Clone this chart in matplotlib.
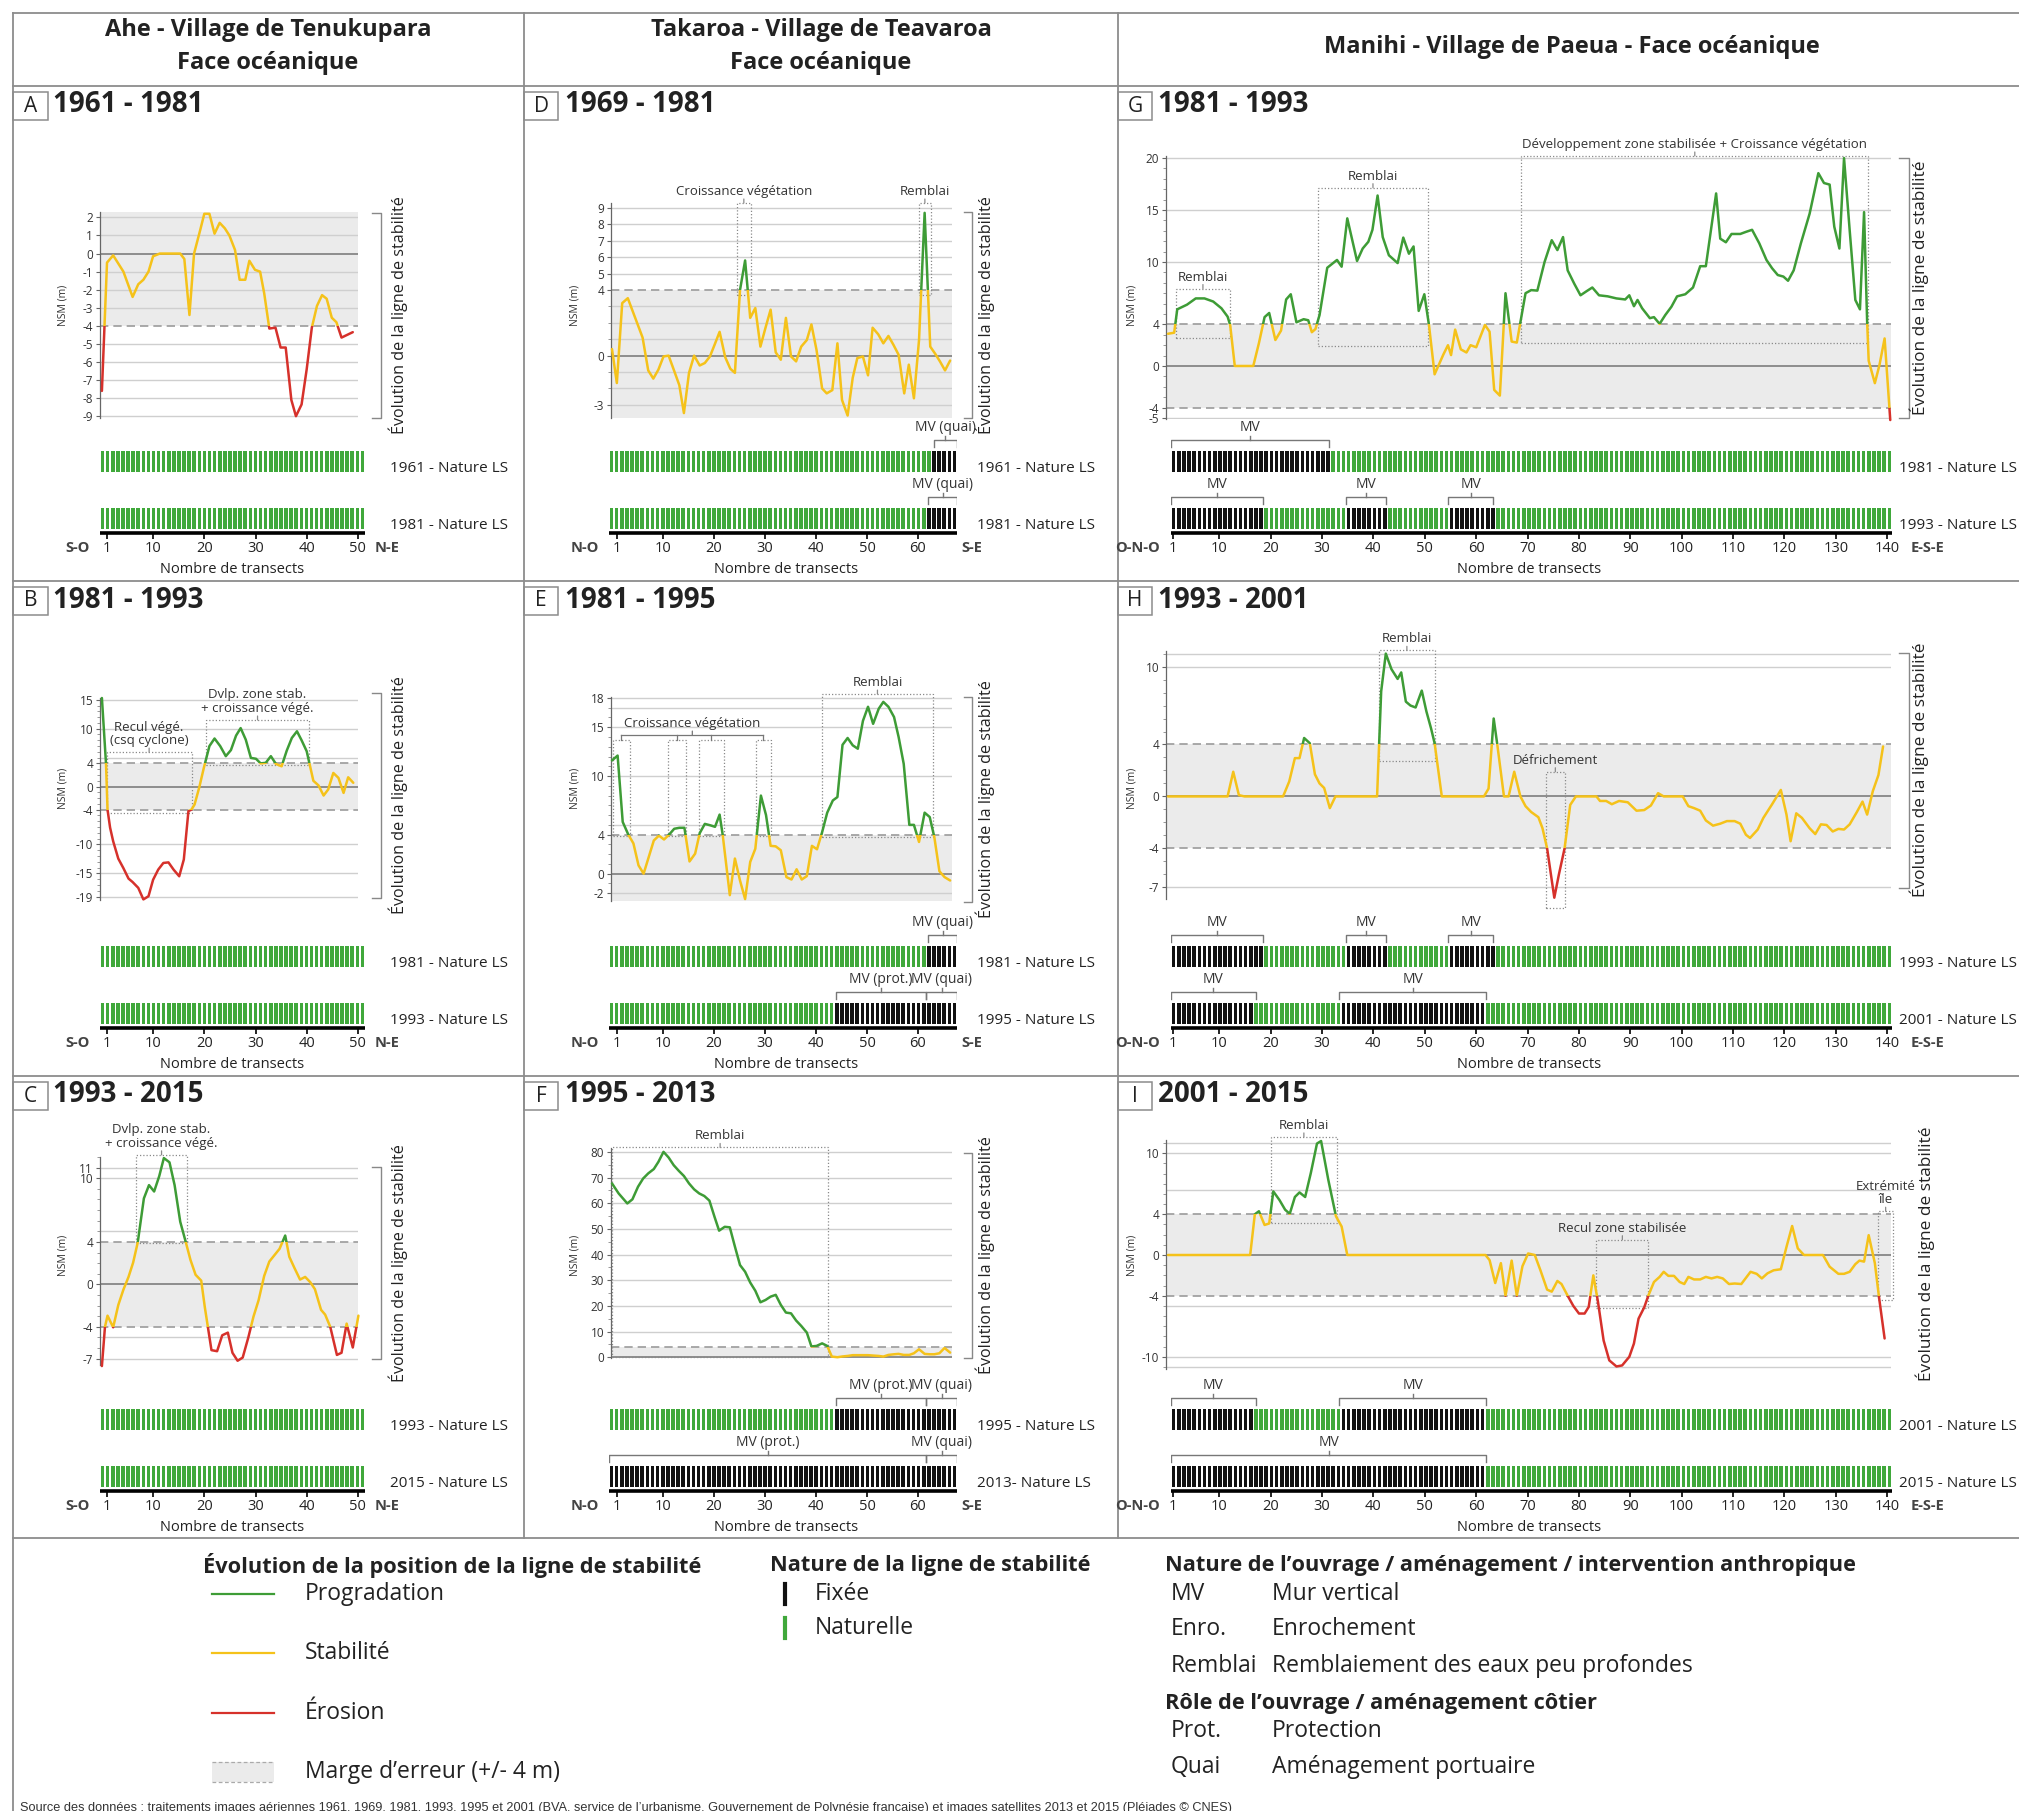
import numpy as np
import matplotlib
matplotlib.use('Agg')
import matplotlib.pyplot as plt
from matplotlib.patches import Rectangle
from matplotlib.ticker import MultipleLocator

plt.rcParams['font.family'] = ['Open Sans', 'DejaVu Sans']

W, H = 2019, 1811

GREEN = '#3e9c36'
YELLOW = '#f5c21a'
RED = '#d6312b'
BAR_GREEN = '#40a83b'
BAR_BLACK = '#111111'
BAND = '#ebebeb'
GRID = '#cfcfcf'
ZERO = '#7d7d7d'
DASH = '#9b9b9b'
FRAME = '#8c8c8c'
TXT = '#222222'

# ---------------- data (NSM en m, par transect) ----------------
# Ahe
a_x = [0, 1, 2.2, 4.2, 6, 7.1, 8.1, 9.1, 10, 11.3, 15.3, 16.1, 17.1, 18, 19.2, 20, 21, 22, 23, 24,
       24.9, 26, 26.9, 28, 28.8, 29.9, 30.9, 31.7, 32.7, 33.9, 34.9, 35.9, 37, 37.9, 39, 40, 41, 42, 43, 43.9,
       44.9, 45.8, 46.8, 49]
a_y = [-7.6, -0.5, -0.1, -1.0, -2.4, -1.7, -1.45, -1.0, -0.15, 0, 0, -0.3, -3.4, 0, 1.3, 2.2, 2.2, 1.1, 1.7, 1.4,
       1.0, 0.2, -1.45, -1.45, -0.4, -0.9, -1.0, -2.2, -4.15, -4.1, -5.2, -5.2, -8.1, -9.0, -8.35, -6.4, -4.1, -2.9, -2.3, -2.5,
       -3.55, -3.8, -4.65, -4.35]

b_x = [0, 0.8, 1.1, 1.6, 2.2, 3.2, 4.2, 5.2, 6, 7.1, 8.1, 9.1, 10, 11, 12, 13, 14, 15.1, 16, 16.9,
       17.5, 18.1, 19, 19.9, 21, 22, 23.1, 24.2, 25.2, 26.2, 27.1, 28.1, 29.1, 30.1, 31, 32, 33, 34, 35.1, 36.1,
       37.1, 38.1, 39, 40, 41.3, 42.3, 43.3, 44.2, 45.2, 46.2, 47.2, 48.1, 49.1]
b_y = [15.3, 4.0, -4.0, -7.1, -9.45, -12.45, -14.1, -15.9, -16.5, -17.5, -19.5, -18.95, -16.1, -14.35, -13.2, -13.1, -14.35, -15.5, -12.6, -4.25,
       -3.98, -3.1, -0.2, 3.2, 7.0, 8.3, 7.0, 5.25, 6.3, 8.8, 10.1, 8.1, 4.95, 4.8, 4.0, 4.1, 5.25, 3.9, 3.5, 6.2,
       8.4, 9.55, 8.0, 6.1, 1.0, 0.2, -1.55, -0.5, 2.35, 1.5, -1.1, 1.6, 0.65]

c_x = [0, 0.6, 1.1, 2.2, 3.2, 4.2, 5.2, 6.1, 7, 8.2, 9.2, 10.2, 11.2, 12.1, 13.2, 14.2, 15.3, 16.4, 17.3, 18.3,
       19.4, 20.1, 21.4, 22.5, 23.5, 24.6, 25.5, 26.5, 27.5, 28.6, 29.6, 30.6, 31.7, 32.7, 33.7, 34.7, 35.8, 36.6, 37.6, 38.7,
       39.7, 40.7, 41.6, 42.8, 43.6, 44.6, 45.9, 46.8, 47.8, 49, 50.1]
c_y = [-7.7, -4.0, -2.95, -4.05, -1.95, -0.5, 0.7, 2.05, 3.95, 8.1, 9.35, 8.75, 10.2, 11.9, 11.5, 9.35, 5.9, 3.95, 2.3, 0.9,
       0.35, -2.15, -6.2, -6.3, -4.8, -4.55, -6.45, -7.2, -6.9, -5.0, -3.05, -1.5, 0.8, 2.15, 2.75, 3.35, 4.6, 2.6, 1.55, 0.45,
       0.7, 0.2, -0.45, -2.4, -2.85, -4.0, -6.65, -6.45, -3.7, -5.95, -2.95]

# Takaroa
d_x = [0, 0.95, 2, 3.1, 6, 7.1, 8.1, 9.1, 10.1, 11.1, 12.1, 13.2, 14.1, 15.1, 16.1, 17.2, 18.2, 19.2, 20.1, 21.1,
       22.2, 23.2, 24.1, 25.1, 26.1, 27.1, 28.1, 29.1, 30.1, 31.1, 32.1, 33.1, 34.1, 35.1, 36.1, 37.1, 38.2, 39.1, 40.1, 41.2,
       42.1, 43.2, 44.2, 45.1, 46.2, 47.2, 48.1, 49.2, 50.2, 51.1, 52.2, 53.2, 54.2, 55.2, 56.2, 57.3, 58.2, 59.2, 60.2, 61.3,
       62.4, 63.4, 64.3, 65.3, 66.3]
d_y = [0.4, -1.67, 3.2, 3.5, 1.1, -0.9, -1.4, -0.85, -0.05, 0, -0.85, -1.8, -3.5, -1.05, 0, -0.6, -0.45, -0.05, 0.65, 1.45,
       -0.1, -0.8, -1.05, 4.0, 5.8, 2.3, 2.9, 0.55, 1.7, 2.8, 0.2, -0.25, 2.3, -0.05, -0.35, 0.55, 0.95, 1.9, 0.35, -2.0,
       -2.3, -2.1, 0.75, -2.7, -3.65, -1.35, -0.15, -0.05, -1.2, 1.7, 1.3, 0.75, 1.2, 0.65, 0.05, -2.3, -0.55, -2.6, 0.95, 8.7,
       0.55, 0.1, -0.35, -0.9, -0.3]

e_x = [0, 1.1, 2.1, 3.2, 4.2, 5.2, 6.2, 7.2, 8.2, 9.2, 10.2, 11.2, 12.2, 13.2, 14.2, 15.2, 16.3, 17.2, 18.2, 19.3,
       20.2, 21.1, 21.7, 23.1, 24.1, 25.1, 26.1, 27.1, 28.1, 29.2, 30.2, 31.1, 32.1, 33.1, 34.2, 35.2, 36.2, 37.2, 38.2, 39.2,
       40.2, 41.2, 42.2, 43.3, 44.2, 45.2, 46.2, 47.2, 48.2, 49.2, 50.2, 51.2, 52.3, 53.2, 54.2, 55.3, 56.2, 57.2, 58.3, 59.2,
       60.2, 61.3, 62.3, 63.2, 64.2, 65.2, 66.3]
e_y = [11.6, 12.1, 5.3, 4.0, 3.1, 0.85, 0, 1.7, 3.4, 3.9, 3.5, 4.0, 4.6, 4.7, 4.7, 1.25, 2.05, 4.15, 5.1, 4.95,
       4.8, 6.05, 4.0, -2.2, 1.55, -0.7, -2.6, 1.2, 2.55, 8.0, 6.0, 2.85, 2.8, 2.4, -0.35, -0.6, 0.45, -0.6, -0.25, 2.85,
       2.5, 4.25, 6.25, 7.5, 7.85, 13.2, 13.9, 13.15, 12.8, 15.65, 17.1, 15.35, 16.9, 17.6, 17.1, 16.05, 14.0, 11.25, 5.0, 5.0,
       3.25, 6.25, 5.8, 3.75, 0.25, -0.35, -0.7]

f_x = [0, 1.3, 3, 4, 5.1, 6.1, 7.1, 8.2, 9.1, 10.1, 11.1, 12.1, 13.1, 14.1, 15.1, 16.1, 17.1, 18.1, 19.1, 20.1,
       21, 22.1, 23.1, 24.1, 25.1, 26.1, 27.1, 28.1, 29.1, 30.1, 31.1, 32.1, 33.1, 34.1, 35.1, 36.1, 37.1, 38.2, 39.1, 40.1,
       41.2, 42.2, 43.1, 44.2, 45.2, 46.2, 47.2, 48.2, 49.2, 50.2, 51.2, 52.3, 53.2, 54.2, 55.3, 56.2, 57.2, 58.3, 59.2, 60.2,
       61.3, 62.3, 63.2, 64.2, 65.2, 66.3]
f_y = [67.7, 63.8, 59.9, 61.5, 66.4, 69.6, 71.6, 73.3, 76.1, 80.0, 77.8, 74.8, 72.6, 70.6, 67.7, 65.4, 63.8, 62.8, 61.0, 54.7,
       49.3, 50.8, 50.6, 43.1, 35.9, 33.3, 29.1, 25.9, 21.4, 22.3, 23.6, 24.3, 20.4, 17.4, 17.1, 14.3, 12.2, 9.6, 4.2, 4.4,
       5.4, 4.4, 0.25, 0, 0.3, 0.5, 0.8, 0.8, 0.8, 0.8, 0.65, 0.5, 0.25, 0.9, 1.15, 1.3, 0.9, 0.9, 1.55, 3.1,
       1.3, 1.15, 1.15, 1.55, 3.6, 1.8]

# Manihi
g_x = [0, 1.2, 1.8, 3.7, 5.4, 7.1, 8.8, 10.4, 11.6, 12.1, 13, 16.6, 17.7, 18.8, 19.7, 20.9, 22, 23, 23.9, 25,
       26.4, 27.3, 28, 28.7, 29.5, 31, 32.9, 33.8, 34.9, 36.8, 37.9, 39, 39.8, 40.8, 41.8, 43, 44.7, 45.8, 46.9, 47.8,
       48.8, 49.9, 50.8, 51.9, 53.6, 54.5, 55.1, 55.9, 57, 58.1, 58.9, 60, 61.7, 62.6, 63.5, 64.6, 65.7, 66.9, 67.9, 69.6,
       70.7, 71.9, 73.3, 74.7, 75.8, 76.9, 77.8, 79.1, 80.3, 81.5, 82.6, 83.9, 85.6, 87.3, 89, 89.8, 90.7, 91.4, 92.3, 93.8,
       94.6, 95.7, 96.8, 98, 99.1, 100.7, 102.2, 103.6, 104.7, 106.7, 107.5, 108.6, 109.7, 111.4, 112.5, 113.7, 115.1, 116.5, 117.6, 118.7,
       119.8, 120.7, 121.8, 123.2, 124.9, 126.6, 127.7, 128.8, 129.7, 130.7, 131.6, 132.7, 133.8, 134.7, 135.5, 136.1, 136.4, 137.6, 138.5, 139.5,
       140.6]
g_y = [3.1, 3.2, 5.45, 5.9, 6.5, 6.5, 6.2, 5.55, 4.75, 3.95, 0, 0, 2.2, 4.7, 5.1, 2.5, 3.4, 6.4, 6.9, 4.2,
       4.5, 4.4, 3.25, 3.55, 4.9, 9.45, 10.2, 9.55, 14.2, 10.1, 11.3, 11.95, 13.1, 16.4, 12.4, 10.65, 9.9, 12.35, 10.8, 11.5,
       5.3, 6.9, 3.95, -0.8, 1.1, 2.0, 1.05, 3.5, 1.6, 1.3, 2.0, 1.8, 3.95, 3.3, -2.3, -2.85, 7.0, 2.35, 2.25, 7.0,
       7.3, 7.25, 10.0, 12.1, 11.15, 12.4, 9.2, 7.9, 6.8, 7.2, 7.55, 6.8, 6.7, 6.5, 6.4, 6.8, 5.75, 6.35, 5.55, 4.6,
       4.7, 4.05, 4.9, 5.7, 6.7, 6.9, 7.55, 9.6, 9.6, 16.6, 12.25, 11.9, 12.7, 12.7, 12.9, 13.1, 11.8, 10.2, 9.4, 8.75,
       8.6, 8.2, 9.2, 11.8, 14.65, 18.55, 17.6, 17.45, 13.4, 11.3, 20.0, 13.05, 6.35, 5.45, 14.8, 4.25, 0.5, -1.65, 0.1, 2.65,
       -5.2]

h_x = [0, 11.6, 12.7, 13.8, 14.9, 22.4, 23.6, 24.7, 25.6, 26.5, 27.6, 28.6, 29.5, 30.4, 31.5, 32.6, 40.7, 41.5, 42.4, 43.5,
       44.7, 45.4, 46.3, 47.2, 48.2, 49.4, 50.3, 51.2, 51.9, 53.3, 61.5, 62.4, 63.4, 64.1, 65.4, 66.3, 67.4, 68.6, 69.6, 70.7,
       72.1, 72.9, 73.8, 75.2, 76.1, 77.2, 78.3, 79.4, 83.4, 84.1, 85.3, 86.4, 87.8, 89.5, 91.2, 92.7, 94, 95.4, 96.5, 100.2,
       101.3, 102.4, 103.6, 104.7, 106.1, 107.5, 108.8, 110.3, 111.4, 112.5, 113.3, 114.8, 115.9, 117.6, 119.3, 120.4, 121.2, 122.3, 123.4, 124.9,
       126, 127.1, 128.2, 129.4, 130.5, 131.6, 132.7, 134.1, 135.2, 136.1, 137.2, 138.3, 139.2]
h_y = [0, 0, 1.9, 0.1, 0, 0, 1.15, 2.95, 2.95, 4.5, 4.1, 1.7, 1.0, 0.65, -0.9, 0, 0, 8.1, 11.0, 9.8,
       9.05, 9.55, 7.3, 7.0, 6.85, 8.15, 6.55, 5.25, 4.1, 0, 0, 0.6, 6.0, 4.0, 0, 0, 1.9, 0, -0.75, -1.2,
       -1.6, -2.45, -4.0, -7.8, -6.0, -4.0, -0.65, 0, 0, -0.35, -0.35, -0.6, -0.35, -0.45, -1.1, -1.05, -0.7, 0.25, 0, 0,
       -0.75, -0.9, -1.1, -1.85, -2.25, -2.1, -1.9, -1.9, -2.1, -2.95, -3.2, -2.55, -1.65, -0.6, 0.5, -1.4, -3.45, -1.3, -1.65, -2.45,
       -2.9, -2.15, -2.2, -2.7, -2.5, -2.55, -2.15, -1.2, -0.4, -1.4, 0.4, 1.65, 3.85]

i_x = [0, 16, 16.9, 17.7, 18.8, 19.7, 20.5, 21.7, 22.8, 23.7, 24.7, 25.6, 26.7, 27.8, 29, 29.8, 31.2, 32.7, 33.8, 34.9,
       61.8, 62.6, 63.7, 64.8, 65.7, 66.9, 67.9, 69, 70.1, 71.4, 72.5, 73.8, 74.7, 75.8, 76.6, 77.8, 78.9, 80, 81.1, 81.9,
       82.8, 83.7, 84.8, 85.9, 87.3, 88.4, 89.8, 90.7, 91.6, 92.7, 93.5, 94.6, 95.7, 96.5, 97.4, 98.5, 99.6, 100.5, 101.3, 102.4,
       103.6, 104.7, 105.8, 106.9, 108, 109.2, 110.3, 111.6, 113.4, 114.6, 115.6, 116.7, 117.9, 119.3, 120.4, 121.5, 122.6, 123.8, 127.5, 128.8,
       130.5, 131.6, 132.7, 133.8, 134.6, 135.5, 136.4, 137.6, 138.4, 139.5]
i_y = [0, 0, 4.0, 4.3, 2.95, 3.1, 6.25, 5.4, 4.45, 4.05, 5.7, 6.15, 5.7, 8.05, 10.95, 11.2, 7.4, 3.8, 2.8, 0,
       0, -0.5, -2.75, -0.8, -4.0, -0.55, -4.0, -1.1, 0.15, 0, -1.5, -3.4, -3.6, -2.55, -2.85, -4.0, -5.0, -5.75, -5.75, -5.1,
       -2.0, -4.6, -8.4, -10.35, -10.95, -10.85, -10.0, -8.7, -6.25, -5.15, -4.0, -2.65, -2.15, -1.65, -2.05, -2.05, -2.65, -2.85, -2.15, -2.4,
       -2.4, -2.15, -2.3, -2.15, -2.3, -2.85, -2.8, -2.85, -1.65, -1.85, -2.3, -1.8, -1.5, -1.4, 0.8, 2.85, 0.65, 0, 0, -1.15,
       -1.85, -1.85, -1.65, -0.9, -0.55, -0.65, 1.95, -0.8, -4.1, -8.2]

# nature du trait de côte : tronçons fixés (début, fin, ouvrage)
d_fixed_1961 = [(63.1, 68, 'MV (quai)')]
d_fixed_1981 = [(62, 68, 'MV (quai)')]
e_fixed_1981 = [(62, 68, 'MV (quai)')]
e_fixed_1995 = [(43.9, 61.6, 'MV (prot.)'), (61.6, 68, 'MV (quai)')]
f_fixed_2013 = [(-1, 61.6, 'MV (prot.)'), (61.6, 68, 'MV (quai)')]
g_fixed_1981 = [(0, 31.3, 'MV')]
g_fixed_1993 = [(0, 18.5, 'MV'), (34.7, 42.4, 'MV'), (54.5, 63.3, 'MV')]
h_fixed_2001 = [(0, 17.1, 'MV'), (33.3, 62, 'MV')]
i_fixed_2015 = [(0, 62, 'MV')]

# zones annotées (transect début, fin, NSM bas, haut, texte)
b_notes = [(0.95, 17.5, -4.55, 5.95, 'Recul végé.\n(csq cyclone)'),
           (20.3, 40.5, 3.8, 11.5, 'Dvlp. zone stab.\n+ croissance végé.')]
c_notes = [(6.7, 16.6, 3.9, 12.2, 'Dvlp. zone stab.\n+ croissance végé.')]
d_notes = [(24.5, 27.2, 3.7, 9.3, 'Croissance végétation'), (60.2, 62.5, 3.7, 9.3, 'Remblai')]
e_notes = [(41.1, 63, 3.75, 18.4, 'Remblai')]
e_veg_boxes = [(0.1, 3.5), (11, 14.6), (17, 21.9), (28.3, 31.1)]
f_notes = [(0, 42.4, 0, 81.7, 'Remblai')]
g_notes = [(1.5, 12.1, 2.7, 7.45, 'Remblai'), (29.2, 50.6, 1.9, 17.15, 'Remblai'),
           (68.8, 136.3, 2.2, 20.2, 'Développement zone stabilisée + Croissance végétation')]
h_notes = [(41, 52, 2.7, 11.25, 'Remblai'), (73.6, 77.2, -8.6, 1.9, 'Défrichement')]
i_notes = [(20, 32.9, 3.1, 11.6, 'Remblai'), (83.4, 93.5, -5.25, 1.5, 'Recul zone stabilisée'),
           (138.3, 141.1, -4.45, 4.3, 'Extrémité\nîle')]

# ---------------- layout (pixels) ----------------
cols = [
    dict(a=101.9, b=5.12, pl=100, pr=358, sl=100, sr=365, n=52, ticks=[1, 10, 20, 30, 40, 50],
         ends=('S-O', 'N-E'), end_x=(78, 387), nsm_x=63, brk=(372, 381), evo_x=398, evo_fs=11.6, ls_x=390,
         xlab_x=232, box=(13, 48), title_x=53),
    dict(a=612, b=5.1, pl=611, pr=952, sl=609, sr=957, n=68, ticks=[1, 10, 20, 30, 40, 50, 60],
         ends=('N-O', 'S-E'), end_x=(585, 972), nsm_x=575, brk=(964, 972), evo_x=985, evo_fs=11.6, ls_x=977,
         xlab_x=786, box=(524, 558), title_x=565),
    dict(a=1168, b=5.137, pl=1166, pr=1891, sl=1171, sr=1892, n=140,
         ticks=[1, 10, 20, 30, 40, 50, 60, 70, 80, 90, 100, 110, 120, 130, 140],
         ends=('O-N-O', 'E-S-E'), end_x=(1138, 1928), nsm_x=1132, brk=(1899, 1909), evo_x=1919, evo_fs=12.4,
         ls_x=1899, xlab_x=1529, box=(1118, 1152), title_x=1158),
]
row_dy = [0, 495, 958]
row_top = [86, 581, 1076]

panels = [
    dict(key='A', col=0, row=0, period='1961 - 1981', x=a_x, y=a_y, top=212, bot=418, ylim=(-9.1, 2.3),
         yticks=[2, 1, 0, -1, -2, -3, -4, -5, -6, -7, -8, -9], grid=[2, 1, -1, -2, -3, -5, -6, -7, -8, -9],
         minor=1, brk=(213, 418), evo_y=315, nsm_y=305, notes=[],
         strips=[([], '1961 - Nature LS'), ([], '1981 - Nature LS')]),
    dict(key='B', col=0, row=1, period='1981 - 1993', x=b_x, y=b_y, top=698, bot=900, ylim=(-19.6, 15.3),
         yticks=[15, 10, 4, 0, -4, -10, -15, -19], grid=[15, 10, 5, -10, -15, -19],
         minor=1, brk=(693, 898), evo_y=795, nsm_y=788, notes=b_notes,
         strips=[([], '1981 - Nature LS'), ([], '1993 - Nature LS')]),
    dict(key='C', col=0, row=2, period='1993 - 2015', x=c_x, y=c_y, top=1157, bot=1365, ylim=(-7.6, 12.0),
         yticks=[11, 10, 4, 0, -4, -7], grid=[11, 10, 5, -5, -7],
         minor=1, brk=(1167, 1359), evo_y=1263, nsm_y=1255, notes=c_notes,
         strips=[([], '1993 - Nature LS'), ([], '2015 - Nature LS')]),
    dict(key='D', col=1, row=0, period='1969 - 1981', x=d_x, y=d_y, top=203, bot=418, ylim=(-3.8, 9.3),
         yticks=[9, 8, 7, 6, 5, 4, 0, -3], grid=[9, 8, 7, 6, 5, 3, 2, 1, -1, -2, -3],
         minor=1, brk=(212, 418), evo_y=315, nsm_y=305, notes=d_notes,
         strips=[(d_fixed_1961, '1961 - Nature LS'), (d_fixed_1981, '1981 - Nature LS')]),
    dict(key='E', col=1, row=1, period='1981 - 1995', x=e_x, y=e_y, top=697, bot=901, ylim=(-2.8, 18.1),
         yticks=[18, 15, 10, 4, 0, -2], grid=[18, 17, 15, 10, 5, -2],
         minor=1, brk=(697, 902), evo_y=799, nsm_y=788, notes=e_notes,
         strips=[(e_fixed_1981, '1981 - Nature LS'), (e_fixed_1995, '1995 - Nature LS')]),
    dict(key='F', col=1, row=2, period='1995 - 2013', x=f_x, y=f_y, top=1148, bot=1358, ylim=(-0.3, 81.5),
         yticks=[80, 70, 60, 50, 40, 30, 20, 10, 0], grid=[80, 70, 60, 50, 40, 30, 20, 10],
         minor=5, brk=(1153, 1358), evo_y=1255, nsm_y=1255, notes=f_notes,
         strips=[(e_fixed_1995, '1995 - Nature LS'), (f_fixed_2013, '2013- Nature LS')]),
    dict(key='G', col=2, row=0, period='1981 - 1993', x=g_x, y=g_y, top=156, bot=419, ylim=(-5.1, 20.2),
         yticks=[20, 15, 10, 4, 0, -4, -5], grid=[20, 15, 10, -5],
         minor=1, brk=(158, 418), evo_y=288, nsm_y=305, notes=g_notes,
         strips=[(g_fixed_1981, '1981 - Nature LS'), (g_fixed_1993, '1993 - Nature LS')]),
    dict(key='H', col=2, row=1, period='1993 - 2001', x=h_x, y=h_y, top=651, bot=899, ylim=(-7.9, 11.2),
         yticks=[10, 4, 0, -4, -7], grid=[11, 10, -7],
         minor=1, brk=(653, 888), evo_y=770, nsm_y=788, notes=h_notes,
         strips=[(g_fixed_1993, '1993 - Nature LS'), (h_fixed_2001, '2001 - Nature LS')]),
    dict(key='I', col=2, row=2, period='2001 - 2015', x=i_x, y=i_y, top=1140, bot=1369, ylim=(-11.2, 11.3),
         yticks=[10, 4, 0, -4, -10], grid=[11, 10, 6.4, -5, -10, -11],
         minor=1, brk=None, evo_y=1254, nsm_y=1255, notes=i_notes, evo_dx=6,
         strips=[(h_fixed_2001, '2001 - Nature LS'), (i_fixed_2015, '2015 - Nature LS')]),
]


def px_box(l, t, r, b):
    return [l / W, 1 - b / H, (r - l) / W, (b - t) / H]


fig = plt.figure(figsize=(W / 100, H / 100), dpi=100)
fig.patch.set_facecolor('white')

# overlay in pixel coordinates (frames, titles, legend)
ov = fig.add_axes([0, 0, 1, 1])
ov.set_xlim(0, W)
ov.set_ylim(H, 0)
ov.axis('off')

fl = dict(color=FRAME, lw=1.3)
ov.plot([13, W], [13, 13], **fl)
ov.plot([13, 13], [13, H], **fl)
for yy in [86, 581, 1076, 1538]:
    ov.plot([13, W], [yy, yy], **fl)
for xx in [524, 1118]:
    ov.plot([xx, xx], [13, 1538], **fl)

hd = dict(ha='center', va='center', fontsize=17, fontweight='bold', color=TXT)
ov.text(268, 30, 'Ahe - Village de Tenukupara', **hd)
ov.text(268, 63, 'Face océanique', **hd)
ov.text(821, 30, 'Takaroa - Village de Teavaroa', **hd)
ov.text(821, 63, 'Face océanique', **hd)
ov.text(1572, 47, 'Manihi - Village de Paeua - Face océanique', **hd)


def draw_series(ax, x, y):
    x0, x1 = ax.get_xlim()
    for lo, hi, colr in [(4, 1000, GREEN), (-4, 4, YELLOW), (-1000, -4, RED)]:
        ln, = ax.plot(x, y, color=colr, lw=1.8, solid_joinstyle='round', solid_capstyle='round', zorder=5)
        clip = Rectangle((x0 - 5, lo), x1 - x0 + 10, hi - lo, transform=ax.transData)
        ln.set_clip_path(clip)


def draw_note(ax, x0, x1, y0, y1, text):
    ax.add_patch(Rectangle((x0, y0), x1 - x0, y1 - y0, fill=False, ec='#8a8a8a', lw=0.9,
                           ls=(0, (1, 1.6)), zorder=3, clip_on=False))
    xc = (x0 + x1) / 2
    ax.annotate('', xy=(xc, y1), xytext=(0, 4), textcoords='offset pixels', annotation_clip=False,
                arrowprops=dict(arrowstyle='-', color='#8a8a8a', lw=0.9, shrinkA=0, shrinkB=0))
    ax.annotate(text, xy=(xc, y1), xytext=(0, 5), textcoords='offset pixels', annotation_clip=False,
                ha='center', va='bottom', fontsize=9.5, color='#333333', linespacing=1.05)


def draw_strip(c, dy, strips):
    tl = (c['sl'] - c['a']) / c['b']
    tr = (c['sr'] - c['a']) / c['b']
    ax = fig.add_axes(px_box(c['sl'], 415 + dy, c['sr'], 580 + dy))
    ax.set_xlim(tl, tr)
    ax.set_ylim(580 + dy, 415 + dy)
    ax.axis('off')
    w = (tr - tl) / c['n']
    centers = tl + w * (np.arange(c['n']) + 0.5)
    for (fixed, label), top in zip(strips, (451, 508)):
        colors = [BAR_BLACK if any(f0 <= t <= f1 for f0, f1, _ in fixed) else BAR_GREEN for t in centers]
        ax.bar(centers, 21, bottom=top + dy, width=w * 0.7, color=colors, lw=0)
        yb = top + dy - 11
        for f0, f1, name in fixed:
            x0, x1 = max(f0, tl), min(f1, tr)
            ax.plot([x0, x0, x1, x1], [yb + 7, yb, yb, yb + 7], color='#777777', lw=1)
            xc = (x0 + x1) / 2
            ax.plot([xc, xc], [yb, yb - 4], color='#777777', lw=1)
            ax.text(xc, yb - 5, name, ha='center', va='bottom', fontsize=10, color='#333333')
        ov.text(c['ls_x'], top + 21 + dy, label, ha='left', va='baseline', fontsize=11, color=TXT)
    ax.plot([tl, tr], [533 + dy] * 2, color='black', lw=2.6, solid_capstyle='butt')
    ax.vlines(c['ticks'], 533 + dy, 539 + dy, color='black', lw=1.2)
    for t in c['ticks']:
        ax.text(t, 552 + dy, str(t), ha='center', va='baseline', fontsize=10.5, color=TXT)
    ov.text(c['end_x'][0], 552 + dy, c['ends'][0], ha='center', va='baseline', fontsize=10.5,
            fontweight='bold', color='#444444')
    ov.text(c['end_x'][1], 552 + dy, c['ends'][1], ha='center', va='baseline', fontsize=10.5,
            fontweight='bold', color='#444444')
    ov.text(c['xlab_x'], 573 + dy, 'Nombre de transects', ha='center', va='baseline', fontsize=10.5, color=TXT)


for p in panels:
    c = cols[p['col']]
    rt = row_top[p['row']]
    dy = row_dy[p['row']]

    # panel label and period
    ov.add_patch(Rectangle((c['box'][0], rt + 6), c['box'][1] - c['box'][0], 28, fill=True, fc='white',
                           ec=FRAME, lw=1.1))
    ov.text((c['box'][0] + c['box'][1]) / 2, rt + 20, p['key'], ha='center', va='center', fontsize=15, color=TXT)
    ov.text(c['title_x'], rt + 19, p['period'], ha='left', va='center', fontsize=20, fontweight='bold', color=TXT)

    ax = fig.add_axes(px_box(c['pl'], p['top'], c['pr'], p['bot']))
    ax.patch.set_alpha(0)
    ax.set_xlim((c['pl'] - c['a']) / c['b'], (c['pr'] - c['a']) / c['b'])
    ax.set_ylim(*p['ylim'])
    for s in ['top', 'right', 'bottom']:
        ax.spines[s].set_visible(False)
    ax.spines['left'].set_color('#666666')
    ax.spines['left'].set_linewidth(0.9)
    ax.set_xticks([])
    ax.set_yticks(p['yticks'])
    ax.set_yticklabels([str(v) for v in p['yticks']], fontsize=8.5, color='#333333')
    ax.yaxis.set_minor_locator(MultipleLocator(p['minor']))
    ax.tick_params(axis='y', which='major', length=3, width=0.8, color='#666666', pad=2)
    ax.tick_params(axis='y', which='minor', length=2, width=0.6, color='#888888')

    ax.axhspan(-4, 4, color=BAND, zorder=0, lw=0)
    for g in p['grid']:
        ax.axhline(g, color=GRID, lw=1, zorder=1)
    ax.axhline(0, color=ZERO, lw=1.2, zorder=2)
    for v in (-4, 4):
        ax.axhline(v, color=DASH, lw=1.2, ls=(0, (5, 3)), zorder=2)

    for x0, x1, y0, y1, txt in p['notes']:
        draw_note(ax, x0, x1, y0, y1, txt)
    if p['key'] == 'E':
        y0, y1, ybar = 3.9, 13.7, 14.2
        mids = []
        for x0, x1 in e_veg_boxes:
            ax.add_patch(Rectangle((x0, y0), x1 - x0, y1 - y0, fill=False, ec='#8a8a8a', lw=0.9,
                                   ls=(0, (1, 1.6)), zorder=3))
            mids.append((x0 + x1) / 2)
        ax.plot([mids[0], mids[-1]], [ybar, ybar], color='#777777', lw=0.9, zorder=3)
        for xm in mids:
            ax.plot([xm, xm], [y1, ybar], color='#777777', lw=0.9, zorder=3)
        lx = (mids[0] + mids[-1]) / 2
        ax.annotate('', xy=(lx, ybar), xytext=(0, 4), textcoords='offset pixels', annotation_clip=False,
                    arrowprops=dict(arrowstyle='-', color='#777777', lw=0.9, shrinkA=0, shrinkB=0))
        ax.annotate('Croissance végétation', xy=(lx, ybar), xytext=(0, 5), textcoords='offset pixels',
                    ha='center', va='bottom', fontsize=9.5, color='#333333', annotation_clip=False)

    draw_series(ax, p['x'], p['y'])

    ov.text(c['nsm_x'], p['nsm_y'], 'NSM (m)', rotation=90, ha='center', va='center', fontsize=7.5, color='#333333')
    if p['brk'] is not None:
        bt, bb = p['brk']
        ov.plot([c['brk'][0], c['brk'][1], c['brk'][1], c['brk'][0]], [bt, bt, bb, bb], color='#888888', lw=1)
    ov.text(c['evo_x'] + p.get('evo_dx', 0), p['evo_y'], 'Évolution de la ligne de stabilité', rotation=90,
            ha='center', va='center', fontsize=c['evo_fs'], color=TXT)

    draw_strip(c, dy, p['strips'])

# ---------------- legend ----------------
lh = dict(ha='center', va='center', fontsize=15.7, fontweight='bold', color=TXT)
li = dict(ha='left', va='center', fontsize=16.5, color=TXT)
ov.text(452, 1565, 'Évolution de la position de la ligne de stabilité', **lh)
for yy, colr, lab in [(1594, GREEN, 'Progradation'), (1653, YELLOW, 'Stabilité'), (1713, RED, 'Érosion')]:
    ov.plot([212, 274], [yy, yy], color=colr, lw=1.6)
    ov.text(305, yy, lab, **li)
ov.add_patch(Rectangle((212, 1762), 62, 20, fc=BAND, lw=0))
for yy in (1762, 1782):
    ov.plot([212, 274], [yy, yy], color='#aaaaaa', lw=0.9, ls=(0, (3, 2)))
ov.text(305, 1772, 'Marge d’erreur (+/- 4 m)', **li)

ov.text(930, 1565, 'Nature de la ligne de stabilité', **lh)
ov.plot([785, 785], [1584, 1604], color=BAR_BLACK, lw=3)
ov.text(815, 1594, 'Fixée', **li)
ov.plot([785, 785], [1618, 1638], color=BAR_GREEN, lw=3)
ov.text(815, 1628, 'Naturelle', **li)

ov.text(1165, 1565, 'Nature de l’ouvrage / aménagement / intervention anthropique', ha='left', va='center',
        fontsize=15.7, fontweight='bold', color=TXT)
for yy, ab, lab in [(1594, 'MV', 'Mur vertical'), (1629, 'Enro.', 'Enrochement'),
                    (1666, 'Remblai', 'Remblaiement des eaux peu profondes')]:
    ov.text(1171, yy, ab, **li)
    ov.text(1272, yy, lab, **li)
ov.text(1165, 1703, 'Rôle de l’ouvrage / aménagement côtier', ha='left', va='center',
        fontsize=15.7, fontweight='bold', color=TXT)
for yy, ab, lab in [(1731, 'Prot.', 'Protection'), (1767, 'Quai', 'Aménagement portuaire')]:
    ov.text(1171, yy, ab, **li)
    ov.text(1272, yy, lab, **li)

ov.text(20, 1802, 'Source des données : traitements images aériennes 1961, 1969, 1981, 1993, 1995 et 2001 '
        '(BVA, service de l’urbanisme, Gouvernement de Polynésie française) et images satellites 2013 et 2015 '
        '(Pléiades © CNES)', ha='left', va='top', fontsize=9.2, color='#333333', family=['Liberation Sans', 'DejaVu Sans'])

fig.savefig('out.png', dpi=100, facecolor='white')
